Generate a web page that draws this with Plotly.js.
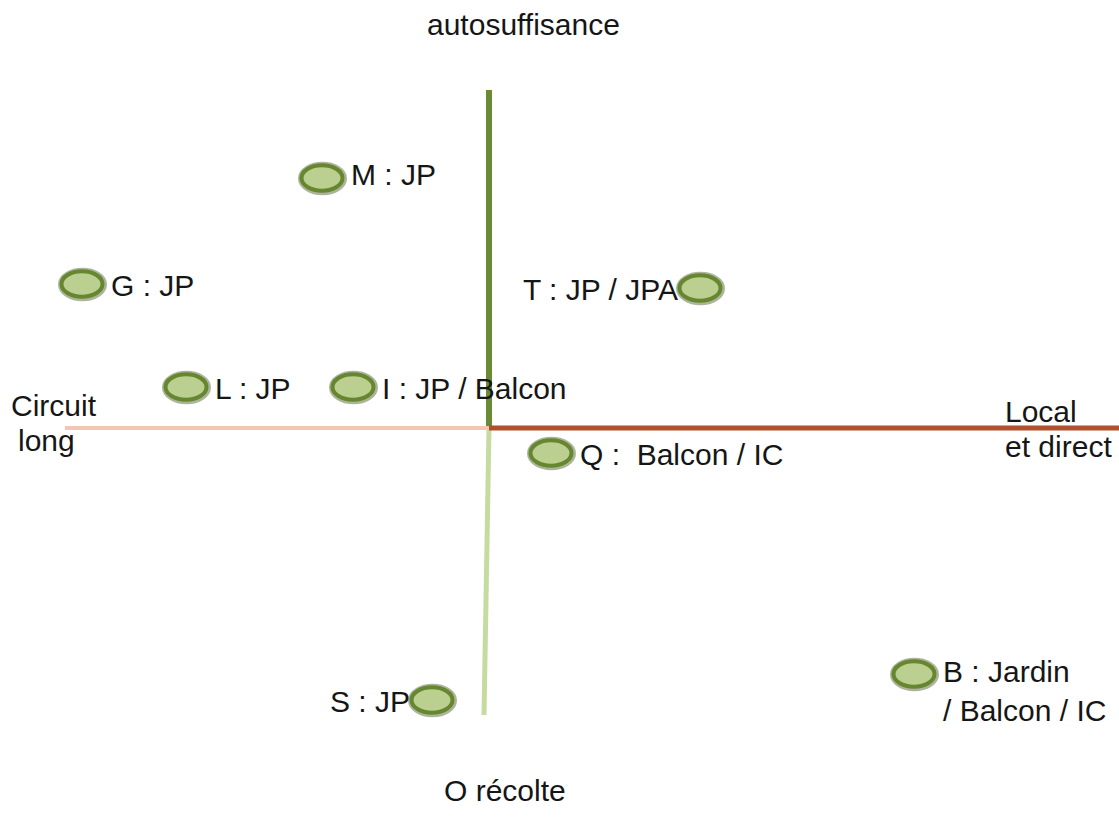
<!DOCTYPE html>
<html>
<head>
<meta charset="utf-8">
<script src="https://cdn.plot.ly/plotly-3.0.1.min.js"></script>
<style>html,body{margin:0;padding:0;background:#fff;}#chart{width:1119px;height:829px;}</style>
</head>
<body>
<div id="chart"></div>
<script>
// Data (conceptual units: x = Circuit long (-) → Local et direct (+), y = O récolte (-) → autosuffisance (+))
const pointNames = ["M", "G", "L", "I", "T", "Q", "B", "S"];
const pointLabels = ["M : JP", "G : JP", "L : JP", "I : JP / Balcon", "T : JP / JPA", "Q :  Balcon / IC", "B : Jardin<br>/ Balcon / IC", "S : JP"];
const pointX = [-3.34, -8.14, -6.06, -2.72, 4.22, 1.24, 8.5, -1.14];
const pointY = [5.0, 2.88, 0.82, 0.82, 2.8, -0.5, -4.92, -5.44];
const labelSide = ["right", "right", "right", "right", "left", "right", "right", "left"];

// axis arms
const armUpX = [0, 0], armUpY = [6.76, 0];
const armDownX = [0, -0.1], armDownY = [0, -5.74];
const armLeftX = [-8.48, 0], armLeftY = [0, 0];
const armRightX = [0, 12.6], armRightY = [0, 0];

const axisTitles = {top: "autosuffisance", bottom: "O récolte", left1: "Circuit", left2: "long", right1: "Local", right2: "et direct"};

const FONT = "Liberation Sans, Arial, sans-serif";
const FS = 30;
const TXT = "#161616";

const traces = [
  {x: armUpX, y: armUpY, mode: "lines", line: {color: "#6b8a36", width: 6}, hoverinfo: "skip"},
  {x: armDownX, y: armDownY, mode: "lines", line: {color: "#c6dba0", width: 5}, hoverinfo: "skip"},
  {x: armLeftX, y: armLeftY, mode: "lines", line: {color: "#f3c5b5", width: 4}, hoverinfo: "skip"},
  {x: armRightX, y: armRightY, mode: "lines", line: {color: "#b0502f", width: 5}, hoverinfo: "skip"}
];

const rx = 0.41, ry = 0.255;
const shapes = [];
pointX.forEach((px, i) => {
  const py = pointY[i];
  shapes.push({type: "circle", xref: "x", yref: "y", x0: px - rx - 0.01, x1: px + rx + 0.03, y0: py - ry - 0.03, y1: py + ry + 0.01,
    line: {color: "rgba(70,90,35,0.45)", width: 6}, fillcolor: "rgba(0,0,0,0)", layer: "above"});
  shapes.push({type: "circle", xref: "x", yref: "y", x0: px - rx, x1: px + rx, y0: py - ry, y1: py + ry,
    line: {color: "#66862f", width: 4}, fillcolor: "#bacf90", layer: "above"});
});

const annotations = [];
pointX.forEach((px, i) => {
  const right = labelSide[i] === "right";
  annotations.push({x: px, y: pointY[i], xref: "x", yref: "y", text: pointLabels[i], showarrow: false,
    xanchor: right ? "left" : "right", yanchor: "middle", align: "left",
    xshift: right ? 27 : -20, yshift: (pointNames[i] === "B") ? -17 : (pointNames[i] === "M" ? 4 : -1),
    font: {family: FONT, size: FS, color: TXT}});
});
annotations.push({xref: "paper", yref: "paper", x: 523/1119, y: 1 - 25/829, text: axisTitles.top, showarrow: false, xanchor: "center", yanchor: "middle", font: {family: FONT, size: FS, color: TXT}});
annotations.push({xref: "paper", yref: "paper", x: 505/1119, y: 1 - 790/829, text: axisTitles.bottom, showarrow: false, xanchor: "center", yanchor: "middle", font: {family: FONT, size: FS, color: TXT}});
annotations.push({xref: "paper", yref: "paper", x: 9/1119, y: 1 - 405/829, text: axisTitles.left1, showarrow: false, xanchor: "left", yanchor: "middle", font: {family: FONT, size: FS, color: TXT}});
annotations.push({xref: "paper", yref: "paper", x: 16/1119, y: 1 - 440/829, text: axisTitles.left2, showarrow: false, xanchor: "left", yanchor: "middle", font: {family: FONT, size: FS, color: TXT}});
annotations.push({xref: "paper", yref: "paper", x: 1003/1119, y: 1 - 411/829, text: axisTitles.right1, showarrow: false, xanchor: "left", yanchor: "middle", font: {family: FONT, size: FS, color: TXT}});
annotations.push({xref: "paper", yref: "paper", x: 1003/1119, y: 1 - 447/829, text: axisTitles.right2, showarrow: false, xanchor: "left", yanchor: "middle", font: {family: FONT, size: FS, color: TXT}});

const layout = {
  width: 1119, height: 829,
  margin: {l: 0, r: 0, t: 0, b: 0, pad: 0},
  paper_bgcolor: "#ffffff", plot_bgcolor: "#ffffff",
  showlegend: false,
  xaxis: {range: [-9.78, 12.6], visible: false, fixedrange: true},
  yaxis: {range: [-8.02, 8.56], visible: false, fixedrange: true},
  shapes: shapes,
  annotations: annotations
};

Plotly.newPlot("chart", traces, layout, {displayModeBar: false, staticPlot: true});
</script>
</body>
</html>
